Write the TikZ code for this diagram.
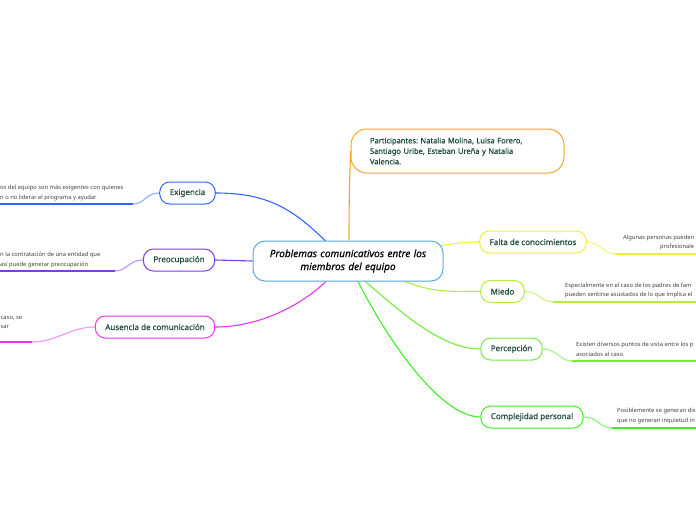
\documentclass[tikz,border=0pt]{standalone}
\usepackage{fontspec}
\setmainfont{Noto Sans}
\newfontfamily\labelfont{Noto Sans}[FakeBold=0.35]
\usepackage{xcolor}
\usetikzlibrary{calc,backgrounds}
\definecolor{txtgreen}{HTML}{1E4A3C}
\definecolor{cmain}{HTML}{5AAAE0}
\definecolor{corange}{HTML}{F7A520}
\definecolor{cyellow}{HTML}{F2EE3A}
\definecolor{clime}{HTML}{B2EE3A}
\definecolor{cgreen}{HTML}{72EE3A}
\definecolor{cgreenb}{HTML}{3CEE22}
\definecolor{cexi}{HTML}{3366FF}
\definecolor{cpre}{HTML}{7B3BF0}
\definecolor{caus}{HTML}{EE33EE}
\frenchspacing

\begin{document}
\begin{tikzpicture}[x=1pt, y=-1pt,
  main/.style ={draw=cmain, line width=1pt, fill=white, rounded corners=12pt, align=center,
                text width=190pt, minimum height=40pt, inner sep=0pt, text=black,
                font=\labelfont\fontsize{10}{13}\selectfont\itshape},
  topic/.style={draw=#1, line width=1pt, fill=white, rounded corners=10pt, minimum height=22pt,
                inner xsep=10pt, inner ysep=0pt, text=txtgreen, font=\labelfont\fontsize{8}{10}\selectfont},
  leaf/.style ={anchor=west, inner sep=0pt, align=left, text=black!75,
                font=\fontsize{5.8}{9.5}\selectfont},
  link/.style ={draw=#1, line width=1.1pt},
  sub/.style  ={draw=#1, line width=1.2pt}
]
\useasboundingbox (0,0) rectangle (696,520);
\clip (0,0) rectangle (696,520);

% central topic and branches
\node[main] (ctr) at (348,261) {Problemas comunicativos entre los\\miembros del equipo};
\node[topic=corange, rounded corners=16pt, align=left, text width=175pt, inner xsep=19pt,
      minimum height=44pt, font=\labelfont\fontsize{7.5}{10.5}\selectfont] (par) at (457.5,151)
  {Participantes: Natalia Molina, Luisa Forero,\\Santiago Uribe, Esteban Ureña y Natalia\\Valencia.};
\node[topic=cyellow] (fal) at (533,242) {Falta de conocimientos};
\node[topic=clime]   (mie) at (502.5,291.5) {Miedo};
\node[topic=cgreen]  (per) at (511.5,349) {Percepción};
\node[topic=cgreenb] (com) at (532,417) {Complejidad personal};
\node[topic=cexi]    (exi) at (187.5,193) {Exigencia};
\node[topic=cpre]    (pre) at (179,260) {Preocupación};
\node[topic=caus]    (aus) at (155,327) {Ausencia de comunicación};

% leaf texts (cut by the page edge)
\node[leaf] (faltxt) at (623,242.5) {Algunas personas pueden\\\hspace*{37pt}profesionale};
\node[leaf] (mietxt) at (565,290.5) {Especialmente en el caso de los padres de fam\\pueden sentirse asustados de lo que implica el};
\node[leaf] (pertxt) at (576,349.5) {Existen diversos puntos de vista entre los p\\asociados al caso.};
\node[leaf] (comtxt) at (617,416) {Posiblemente se generan dis\\que no generan inquietud in};
\node[leaf] (exitxt) at (0,193) {os del equipo son más exigentes con quienes\\n o no liderar el programa y ayudar};
\node[leaf] (pretxt) at (0,260) {n la contratación de una entidad que\\así puede generar preocupación};
\node[leaf] (austxt) at (0.5,322.5) {caso, se\\sar};

\coordinate (falu) at (615,254);
\coordinate (mieu) at (553,302);
\coordinate (peru) at (572,361);
\coordinate (comu) at (612,428);
\coordinate (exiu) at (133,204);
\coordinate (preu) at (115,271);
\coordinate (ausu) at (32,342);

\begin{scope}[on background layer]
\fill[white] (0,0) rectangle (696,520);
\draw[link=corange] ($(ctr.north)+(1,0)$) .. controls +(0,-60) and +(0,12) .. (par.west);
\draw[link=cexi] (exi.east) .. controls +(50,0) and +(-35,-35) .. ($(ctr.north)+(-21,2)$);
\draw[link=cpre] (pre.east) -- (ctr.west);
\draw[link=caus] (aus.east) .. controls +(45,0) and +(-25,25) .. ($(ctr.south)+(-20,-2)$);
\draw[link=cyellow] ($(ctr.east)+(-6,-15)$) .. controls +(15,-2) and +(-15,0) .. (fal.west);
\draw[link=clime] ($(ctr.south)+(52,-2)$) .. controls +(30,12) and +(-40,0) .. (mie.west);
\draw[link=cgreen] ($(ctr.south)+(15,-2)$) .. controls +(35,30) and +(-40,0) .. (per.west);
\draw[link=cgreenb] ($(ctr.south)+(9,-2)$) .. controls +(30,60) and +(-40,0) .. (com.west);
% leaf connectors and underlines
\draw[sub=cyellow!60] (fal.east) .. controls +(14,0) and +(-12,0) .. (falu);
\draw[sub=cyellow] (falu) -- ++(150,0);
\draw[sub=clime!60] (mie.east) .. controls +(14,0) and +(-12,0) .. (mieu);
\draw[sub=clime] (mieu) -- ++(150,0);
\draw[sub=cgreen!60] (per.east) .. controls +(14,0) and +(-12,0) .. (peru);
\draw[sub=cgreen] (peru) -- ++(150,0);
\draw[sub=cgreenb!60] (com.east) .. controls +(14,0) and +(-12,0) .. (comu);
\draw[sub=cgreenb] (comu) -- ++(150,0);
\draw[sub=cexi!50] (exi.west) .. controls +(-14,0) and +(12,0) .. (exiu);
\draw[sub=cexi] (exiu) -- ++(-150,0);
\draw[sub=cpre!50] (pre.west) .. controls +(-14,0) and +(12,0) .. (preu);
\draw[sub=cpre] (preu) -- ++(-150,0);
\draw[sub=caus!50] (aus.west) .. controls +(-25,0) and +(25,0) .. (ausu);
\draw[sub=caus] (ausu) -- ++(-150,0);
\end{scope}
\end{tikzpicture}
\end{document}
